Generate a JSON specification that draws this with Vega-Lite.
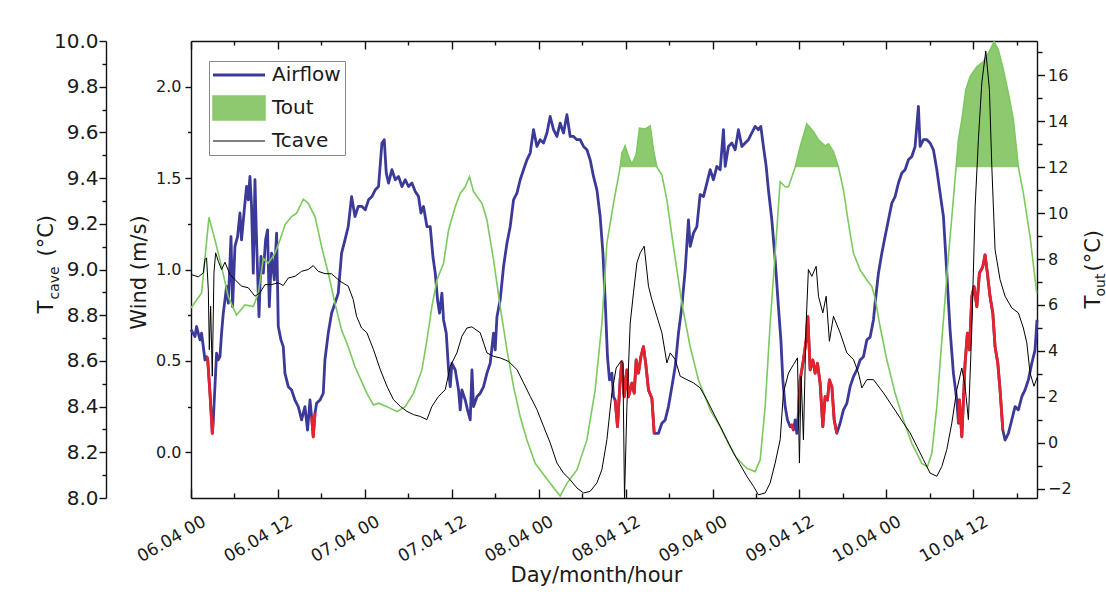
{
"$schema": "https://vega.github.io/schema/vega-lite/v6.json",
"width": 846, "height": 457,
"autosize": {"type": "none"},
"padding": {"left": 191, "top": 41, "right": 69, "bottom": 97},
"background": "white",
"config": {
  "font": "DejaVu Sans",
  "view": {"stroke": null},
  "axis": {"grid": false, "domainColor": "#111111", "tickColor": "#111111", "domainWidth": 1.4, "tickWidth": 1.4, "labelColor": "#1a1a1a", "titleColor": "#1a1a1a", "labelFontSize": 16, "titleFontSize": 21, "titleFontWeight": "normal", "labelFont": "DejaVu Sans", "titleFont": "DejaVu Sans"}
},
"resolve": {"scale": {"y": "independent"}, "axis": {"x": "independent", "y": "independent"}},
"datasets": {
"air": [
{"h":0,"w":0.67,"r":0},{"h":0.55,"w":0.633,"r":0},{"h":0.77,"w":0.688,"r":0},{"h":1.24,"w":0.615,"r":0},{"h":1.46,"w":0.652,"r":0},{"h":1.93,"w":0.505,"r":0},
{"h":2.15,"w":0.523,"r":1},{"h":2.29,"w":0.515,"r":1},{"h":2.62,"w":0.323,"r":1},{"h":2.94,"w":0.104,"r":1},{"h":3.08,"w":0.177,"r":1},
{"h":3.53,"w":0.542,"r":0},{"h":3.77,"w":0.505,"r":0},{"h":4.0,"w":0.523,"r":0},{"h":4.22,"w":0.652,"r":0},{"h":4.46,"w":0.761,"r":0},{"h":4.69,"w":0.834,"r":0},{"h":4.91,"w":0.907,"r":0},{"h":5.15,"w":0.816,"r":0},{"h":5.52,"w":1.18,"r":0},{"h":5.74,"w":0.797,"r":0},{"h":6.07,"w":1.126,"r":0},{"h":6.43,"w":1.18,"r":0},{"h":6.76,"w":1.309,"r":0},{"h":6.98,"w":1.162,"r":0},{"h":7.36,"w":1.327,"r":0},{"h":7.67,"w":1.454,"r":0},{"h":7.91,"w":1.381,"r":0},{"h":8.14,"w":1.509,"r":0},{"h":8.36,"w":1.345,"r":0},{"h":8.6,"w":0.98,"r":0},{"h":8.83,"w":1.491,"r":0},{"h":9.05,"w":1.162,"r":0},{"h":9.39,"w":0.742,"r":0},{"h":9.66,"w":1.071,"r":0},{"h":9.98,"w":0.98,"r":0},{"h":10.3,"w":1.162,"r":0},{"h":10.57,"w":1.217,"r":0},{"h":10.81,"w":0.797,"r":0},{"h":11.12,"w":1.09,"r":0},{"h":11.5,"w":0.943,"r":0},{"h":11.82,"w":1.199,"r":0},{"h":12.05,"w":0.688,"r":0},{"h":12.42,"w":0.615,"r":0},{"h":12.74,"w":0.578,"r":0},{"h":12.97,"w":0.433,"r":0},{"h":13.43,"w":0.359,"r":0},{"h":13.89,"w":0.341,"r":0},{"h":14.35,"w":0.286,"r":0},{"h":14.81,"w":0.25,"r":0},{"h":15.27,"w":0.177,"r":0},{"h":15.73,"w":0.25,"r":0},{"h":16.09,"w":0.122,"r":0},{"h":16.43,"w":0.286,"r":0},
{"h":16.65,"w":0.195,"r":2},{"h":16.88,"w":0.085,"r":2},{"h":17.12,"w":0.214,"r":2},
{"h":17.34,"w":0.268,"r":0},{"h":17.81,"w":0.286,"r":0},{"h":18.26,"w":0.323,"r":0},{"h":18.49,"w":0.505,"r":0},{"h":18.95,"w":0.652,"r":0},{"h":19.41,"w":0.761,"r":0},{"h":19.88,"w":0.816,"r":0},{"h":20.33,"w":0.871,"r":0},{"h":20.79,"w":1.09,"r":0},{"h":21.26,"w":1.162,"r":0},{"h":21.71,"w":1.235,"r":0},{"h":22.17,"w":1.399,"r":0},{"h":22.64,"w":1.29,"r":0},{"h":23.09,"w":1.345,"r":0},{"h":23.6,"w":1.345,"r":0},{"h":24.06,"w":1.327,"r":0},{"h":24.51,"w":1.381,"r":0},{"h":24.98,"w":1.399,"r":0},{"h":25.44,"w":1.436,"r":0},{"h":25.89,"w":1.454,"r":0},{"h":26.36,"w":1.692,"r":0},{"h":26.68,"w":1.71,"r":0},{"h":26.96,"w":1.527,"r":0},{"h":27.27,"w":1.473,"r":0},{"h":27.74,"w":1.546,"r":0},{"h":28.2,"w":1.491,"r":0},{"h":28.65,"w":1.509,"r":0},{"h":29.12,"w":1.454,"r":0},{"h":29.58,"w":1.491,"r":0},{"h":30.03,"w":1.454,"r":0},{"h":30.5,"w":1.473,"r":0},{"h":30.96,"w":1.427,"r":0},{"h":31.41,"w":1.399,"r":0},{"h":31.75,"w":1.309,"r":0},{"h":32.1,"w":1.345,"r":0},{"h":32.57,"w":1.235,"r":0},{"h":33.03,"w":1.235,"r":0},{"h":33.4,"w":1.071,"r":0},{"h":33.72,"w":0.98,"r":0},{"h":34.04,"w":0.834,"r":0},{"h":34.31,"w":0.761,"r":0},{"h":34.64,"w":0.871,"r":0},{"h":34.87,"w":0.724,"r":0},{"h":35.24,"w":0.652,"r":0},{"h":35.56,"w":0.451,"r":0},{"h":35.79,"w":0.359,"r":0},{"h":36.02,"w":0.487,"r":0},{"h":36.48,"w":0.451,"r":0},{"h":36.94,"w":0.341,"r":0},{"h":37.17,"w":0.232,"r":0},{"h":37.4,"w":0.341,"r":0},{"h":37.86,"w":0.286,"r":0},{"h":38.18,"w":0.232,"r":0},{"h":38.55,"w":0.177,"r":0},{"h":38.79,"w":0.451,"r":0},{"h":39.01,"w":0.25,"r":0},{"h":39.48,"w":0.304,"r":0},{"h":39.93,"w":0.323,"r":0},{"h":40.39,"w":0.359,"r":0},{"h":40.86,"w":0.433,"r":0},{"h":41.31,"w":0.487,"r":0},{"h":41.77,"w":0.652,"r":0},{"h":42.0,"w":0.56,"r":0},{"h":42.24,"w":0.742,"r":0},{"h":42.69,"w":0.834,"r":0},{"h":43.15,"w":1.016,"r":0},{"h":43.62,"w":1.144,"r":0},{"h":44.07,"w":1.235,"r":0},{"h":44.53,"w":1.381,"r":0},{"h":45.0,"w":1.418,"r":0},{"h":45.45,"w":1.491,"r":0},{"h":45.91,"w":1.546,"r":0},{"h":46.38,"w":1.6,"r":0},{"h":46.83,"w":1.637,"r":0},{"h":47.29,"w":1.765,"r":0},{"h":47.76,"w":1.673,"r":0},{"h":48.21,"w":1.71,"r":0},{"h":48.67,"w":1.692,"r":0},{"h":49.14,"w":1.747,"r":0},{"h":49.59,"w":1.837,"r":0},{"h":50.05,"w":1.765,"r":0},{"h":50.52,"w":1.728,"r":0},{"h":50.97,"w":1.801,"r":0},{"h":51.43,"w":1.747,"r":0},{"h":51.9,"w":1.847,"r":0},{"h":52.35,"w":1.728,"r":0},{"h":52.81,"w":1.728,"r":0},{"h":53.28,"w":1.71,"r":0},{"h":53.73,"w":1.71,"r":0},{"h":54.19,"w":1.673,"r":0},{"h":54.66,"w":1.655,"r":0},{"h":55.11,"w":1.6,"r":0},{"h":55.57,"w":1.509,"r":0},{"h":56.04,"w":1.436,"r":0},{"h":56.49,"w":1.29,"r":0},{"h":56.87,"w":1.09,"r":0},{"h":57.18,"w":0.834,"r":0},{"h":57.5,"w":0.523,"r":0},{"h":57.78,"w":0.396,"r":0},{"h":58.11,"w":0.433,"r":0},{"h":58.33,"w":0.304,"r":0},
{"h":58.56,"w":0.286,"r":3},{"h":58.88,"w":0.14,"r":3},{"h":59.25,"w":0.396,"r":3},{"h":59.49,"w":0.496,"r":3},{"h":59.81,"w":0.304,"r":3},{"h":60.18,"w":0.451,"r":3},{"h":60.4,"w":0.304,"r":3},{"h":60.87,"w":0.378,"r":3},{"h":61.19,"w":0.323,"r":3},{"h":61.46,"w":0.505,"r":3},{"h":61.78,"w":0.433,"r":3},{"h":62.11,"w":0.523,"r":3},{"h":62.47,"w":0.578,"r":3},{"h":62.8,"w":0.478,"r":3},{"h":63.16,"w":0.341,"r":3},{"h":63.63,"w":0.296,"r":3},{"h":63.95,"w":0.104,"r":3},
{"h":64.54,"w":0.104,"r":0},{"h":65.01,"w":0.159,"r":0},{"h":65.47,"w":0.177,"r":0},{"h":65.92,"w":0.25,"r":0},{"h":66.39,"w":0.359,"r":0},{"h":66.85,"w":0.469,"r":0},{"h":67.3,"w":0.652,"r":0},{"h":67.77,"w":0.797,"r":0},{"h":68.23,"w":0.998,"r":0},{"h":68.68,"w":1.272,"r":0},{"h":68.92,"w":1.126,"r":0},{"h":69.37,"w":1.199,"r":0},{"h":69.84,"w":1.235,"r":0},{"h":70.29,"w":1.41,"r":0},{"h":70.75,"w":1.399,"r":0},{"h":71.22,"w":1.473,"r":0},{"h":71.68,"w":1.546,"r":0},{"h":72.13,"w":1.491,"r":0},{"h":72.6,"w":1.564,"r":0},{"h":73.06,"w":1.546,"r":0},{"h":73.51,"w":1.765,"r":0},{"h":73.75,"w":1.564,"r":0},{"h":74.2,"w":1.673,"r":0},{"h":74.67,"w":1.692,"r":0},{"h":75.13,"w":1.655,"r":0},{"h":75.58,"w":1.765,"r":0},{"h":76.05,"w":1.673,"r":0},{"h":76.51,"w":1.692,"r":0},{"h":76.96,"w":1.71,"r":0},{"h":77.43,"w":1.747,"r":0},{"h":77.89,"w":1.783,"r":0},{"h":78.34,"w":1.765,"r":0},{"h":78.67,"w":1.783,"r":0},{"h":79.03,"w":1.673,"r":0},{"h":79.41,"w":1.564,"r":0},{"h":79.72,"w":1.436,"r":0},{"h":80.19,"w":1.272,"r":0},{"h":80.65,"w":1.053,"r":0},{"h":81.1,"w":0.797,"r":0},{"h":81.44,"w":0.615,"r":0},{"h":81.71,"w":0.396,"r":0},{"h":82.03,"w":0.25,"r":0},{"h":82.35,"w":0.177,"r":0},
{"h":82.72,"w":0.14,"r":4},{"h":82.96,"w":0.149,"r":4},{"h":83.18,"w":0.122,"r":4},
{"h":83.41,"w":0.177,"r":0},{"h":83.64,"w":0.104,"r":0},
{"h":83.86,"w":0.214,"r":5},{"h":84.1,"w":0.396,"r":5},{"h":84.55,"w":0.505,"r":5},{"h":84.93,"w":0.615,"r":5},{"h":85.16,"w":0.742,"r":5},{"h":85.48,"w":0.451,"r":5},{"h":85.85,"w":0.505,"r":5},{"h":86.17,"w":0.433,"r":5},{"h":86.49,"w":0.487,"r":5},{"h":86.86,"w":0.378,"r":5},{"h":87.23,"w":0.14,"r":5},{"h":87.55,"w":0.304,"r":5},{"h":87.87,"w":0.286,"r":5},{"h":88.14,"w":0.396,"r":5},{"h":88.48,"w":0.359,"r":5},{"h":88.8,"w":0.177,"r":5},{"h":89.16,"w":0.104,"r":5},
{"h":89.62,"w":0.159,"r":0},{"h":90.08,"w":0.232,"r":0},{"h":90.55,"w":0.268,"r":0},{"h":91.0,"w":0.359,"r":0},{"h":91.46,"w":0.414,"r":0},{"h":91.93,"w":0.451,"r":0},{"h":92.38,"w":0.505,"r":0},{"h":92.84,"w":0.523,"r":0},{"h":93.31,"w":0.615,"r":0},{"h":93.76,"w":0.63,"r":0},{"h":94.22,"w":0.724,"r":0},{"h":94.45,"w":0.816,"r":0},{"h":94.91,"w":0.98,"r":0},{"h":95.38,"w":1.09,"r":0},{"h":95.83,"w":1.18,"r":0},{"h":96.29,"w":1.272,"r":0},{"h":96.76,"w":1.363,"r":0},{"h":97.21,"w":1.399,"r":0},{"h":97.67,"w":1.473,"r":0},{"h":98.14,"w":1.528,"r":0},{"h":98.59,"w":1.546,"r":0},{"h":99.05,"w":1.6,"r":0},{"h":99.52,"w":1.618,"r":0},{"h":99.97,"w":1.673,"r":0},{"h":100.43,"w":1.892,"r":0},{"h":100.66,"w":1.673,"r":0},{"h":101.12,"w":1.71,"r":0},{"h":101.59,"w":1.71,"r":0},{"h":102.04,"w":1.692,"r":0},{"h":102.5,"w":1.655,"r":0},{"h":102.97,"w":1.546,"r":0},{"h":103.42,"w":1.418,"r":0},{"h":103.88,"w":1.29,"r":0},{"h":104.35,"w":0.98,"r":0},{"h":104.8,"w":0.67,"r":0},{"h":105.26,"w":0.433,"r":0},{"h":105.73,"w":0.286,"r":0},
{"h":105.95,"w":0.159,"r":6},{"h":106.09,"w":0.286,"r":6},{"h":106.42,"w":0.085,"r":6},{"h":106.87,"w":0.487,"r":6},{"h":107.19,"w":0.652,"r":6},{"h":107.47,"w":0.56,"r":6},{"h":107.8,"w":0.852,"r":6},{"h":108.11,"w":0.907,"r":6},{"h":108.49,"w":0.797,"r":6},{"h":108.85,"w":0.98,"r":6},{"h":109.32,"w":1.016,"r":6},{"h":109.63,"w":1.08,"r":6},{"h":109.95,"w":0.98,"r":6},{"h":110.32,"w":0.852,"r":6},{"h":110.7,"w":0.761,"r":6},{"h":111.01,"w":0.578,"r":6},{"h":111.39,"w":0.487,"r":6},{"h":111.7,"w":0.341,"r":6},{"h":112.08,"w":0.122,"r":6},
{"h":112.39,"w":0.067,"r":0},{"h":112.85,"w":0.104,"r":0},{"h":113.32,"w":0.177,"r":0},{"h":113.77,"w":0.25,"r":0},{"h":114.23,"w":0.232,"r":0},{"h":114.7,"w":0.304,"r":0},{"h":115.15,"w":0.341,"r":0},{"h":115.61,"w":0.396,"r":0},{"h":116.08,"w":0.487,"r":0},{"h":116.53,"w":0.56,"r":0},{"h":116.8,"w":0.724,"r":0}
],
"tout": [
{"h":0,"t":5.87},{"h":1.46,"t":6.52},{"h":2.48,"t":9.82},{"h":3.31,"t":8.83},{"h":4.22,"t":7.67},{"h":5.15,"t":6.36},{"h":6.29,"t":5.56},{"h":7.45,"t":6.0},{"h":8.6,"t":5.93},{"h":9.29,"t":6.51},{"h":9.98,"t":8.03},{"h":10.67,"t":7.82},{"h":11.59,"t":8.25},{"h":12.28,"t":8.83},{"h":12.97,"t":9.49},{"h":13.89,"t":9.85},{"h":14.58,"t":10.0},{"h":15.5,"t":10.61},{"h":16.19,"t":10.43},{"h":17.12,"t":9.85},{"h":18.03,"t":8.54},{"h":18.95,"t":7.38},{"h":19.88,"t":6.07},{"h":20.79,"t":4.91},{"h":21.71,"t":4.18},{"h":22.64,"t":3.31},{"h":23.78,"t":2.51},{"h":24.29,"t":2.15},{"h":25.2,"t":1.64},{"h":25.89,"t":1.72},{"h":27.05,"t":1.57},{"h":28.43,"t":1.35},{"h":29.58,"t":1.57},{"h":30.72,"t":2.15},{"h":31.88,"t":3.17},{"h":32.57,"t":4.47},{"h":33.26,"t":5.93},{"h":33.95,"t":7.09},{"h":34.87,"t":7.82},{"h":35.56,"t":9.27},{"h":36.48,"t":10.28},{"h":37.17,"t":10.87},{"h":37.86,"t":11.15},{"h":38.45,"t":11.59},{"h":39.0,"t":10.94},{"h":40.17,"t":10.43},{"h":40.86,"t":9.7},{"h":41.77,"t":7.96},{"h":42.69,"t":5.93},{"h":43.62,"t":4.04},{"h":44.53,"t":2.44},{"h":45.45,"t":1.13},{"h":46.38,"t":0.12},{"h":47.52,"t":-0.9},{"h":48.21,"t":-1.19},{"h":49.59,"t":-1.77},{"h":50.97,"t":-2.32},{"h":51.9,"t":-1.77},{"h":53.28,"t":-1.19},{"h":54.66,"t":0.12},{"h":55.8,"t":2.3},{"h":56.73,"t":5.2},{"h":57.42,"t":8.69},{"h":58.33,"t":10.43},{"h":59.25,"t":12},{"h":59.49,"t":12.61},{"h":59.94,"t":12.93},{"h":60.4,"t":12.46},{"h":60.87,"t":12.14},{"h":61.46,"t":12.54},{"h":61.92,"t":13.7},{"h":62.7,"t":13.66},{"h":63.4,"t":13.8},{"h":63.85,"t":12.75},{"h":64.32,"t":12},{"h":65.01,"t":11.66},{"h":65.7,"t":10.58},{"h":66.61,"t":8.54},{"h":67.77,"t":6.07},{"h":68.92,"t":4.18},{"h":70.06,"t":2.73},{"h":71.7,"t":1.42},{"h":73.06,"t":0.7},{"h":74.44,"t":-0.17},{"h":75.36,"t":-0.68},{"h":76.74,"t":-1.12},{"h":77.89,"t":-1.26},{"h":78.58,"t":-0.75},{"h":79.27,"t":1.57},{"h":79.96,"t":5.2},{"h":80.65,"t":8.25},{"h":81.34,"t":11.37},{"h":82.03,"t":11.15},{"h":82.49,"t":11.15},{"h":83.41,"t":12},{"h":84.1,"t":12.9},{"h":85.02,"t":13.89},{"h":85.94,"t":13.55},{"h":86.63,"t":13.19},{"h":87.55,"t":12.93},{"h":88.0,"t":13.02},{"h":88.7,"t":12.68},{"h":89.39,"t":12},{"h":90.08,"t":11.01},{"h":90.77,"t":9.56},{"h":91.46,"t":8.25},{"h":92.38,"t":7.53},{"h":93.31,"t":7.09},{"h":94.0,"t":6.8},{"h":94.45,"t":6.29},{"h":95.14,"t":5.05},{"h":96.07,"t":3.6},{"h":97.21,"t":2.15},{"h":98.36,"t":0.99},{"h":99.52,"t":-0.03},{"h":100.9,"t":-0.9},{"h":101.67,"t":-1.05},{"h":102.28,"t":-0.46},{"h":102.97,"t":1.57},{"h":103.66,"t":4.47},{"h":104.57,"t":8.1},{"h":105.63,"t":12},{"h":105.95,"t":13.19},{"h":106.42,"t":14.06},{"h":106.97,"t":15.37},{"h":107.56,"t":15.95},{"h":108.49,"t":16.38},{"h":109.4,"t":16.6},{"h":110.33,"t":17.11},{"h":110.88,"t":17.47},{"h":111.47,"t":17.11},{"h":112.16,"t":16.24},{"h":112.85,"t":15.22},{"h":113.54,"t":14.06},{"h":114.23,"t":12},{"h":114.92,"t":10.87},{"h":115.84,"t":8.98},{"h":116.77,"t":6.51}
],
"tcave": [
{"h":0,"t":8.978},{"h":1.01,"t":8.968},{"h":1.7,"t":8.985},{"h":1.93,"t":9.044},{"h":2.15,"t":9.051},{"h":2.39,"t":8.912},{"h":2.53,"t":8.649},{"h":2.71,"t":8.839},{"h":2.94,"t":8.533},{"h":3.17,"t":8.985},{"h":3.4,"t":9.073},{"h":3.77,"t":9.036},{"h":4.22,"t":9.0},{"h":4.69,"t":9.032},{"h":5.38,"t":8.978},{"h":6.07,"t":8.956},{"h":6.98,"t":8.927},{"h":7.91,"t":8.92},{"h":8.83,"t":8.883},{"h":9.52,"t":8.898},{"h":10.21,"t":8.934},{"h":11.12,"t":8.934},{"h":12.05,"t":8.942},{"h":12.74,"t":8.93},{"h":13.43,"t":8.963},{"h":14.35,"t":8.97},{"h":15.27,"t":8.992},{"h":16.19,"t":9.0},{"h":16.88,"t":9.017},{"h":17.57,"t":8.992},{"h":18.49,"t":8.982},{"h":19.41,"t":8.981},{"h":20.57,"t":8.949},{"h":21.71,"t":8.927},{"h":22.4,"t":8.868},{"h":22.86,"t":8.795},{"h":23.55,"t":8.744},{"h":24.29,"t":8.723},{"h":25.2,"t":8.649},{"h":26.13,"t":8.562},{"h":27.05,"t":8.489},{"h":27.96,"t":8.43},{"h":28.89,"t":8.401},{"h":29.81,"t":8.379},{"h":30.72,"t":8.365},{"h":31.65,"t":8.357},{"h":32.57,"t":8.343},{"h":33.26,"t":8.401},{"h":34.18,"t":8.445},{"h":35.1,"t":8.474},{"h":35.79,"t":8.576},{"h":36.71,"t":8.635},{"h":37.4,"t":8.708},{"h":38.1,"t":8.744},{"h":38.78,"t":8.749},{"h":39.93,"t":8.723},{"h":40.86,"t":8.635},{"h":41.77,"t":8.62},{"h":42.69,"t":8.613},{"h":43.84,"t":8.598},{"h":45.0,"t":8.562},{"h":45.91,"t":8.504},{"h":46.83,"t":8.445},{"h":47.76,"t":8.387},{"h":48.67,"t":8.314},{"h":49.59,"t":8.241},{"h":50.52,"t":8.153},{"h":51.43,"t":8.109},{"h":52.35,"t":8.08},{"h":53.28,"t":8.044},{"h":54.19,"t":8.022},{"h":55.11,"t":8.029},{"h":56.04,"t":8.066},{"h":56.73,"t":8.124},{"h":57.42,"t":8.255},{"h":58.11,"t":8.46},{"h":58.7,"t":8.569},{"h":59.35,"t":8.598},{"h":59.63,"t":8.591},{"h":59.85,"t":8.0},{"h":60.18,"t":8.401},{"h":60.64,"t":8.766},{"h":61.09,"t":8.898},{"h":61.56,"t":9.029},{"h":62.02,"t":9.073},{"h":62.57,"t":9.102},{"h":63.16,"t":8.927},{"h":63.63,"t":8.868},{"h":64.32,"t":8.795},{"h":65.01,"t":8.723},{"h":65.7,"t":8.591},{"h":66.16,"t":8.635},{"h":66.85,"t":8.606},{"h":67.54,"t":8.533},{"h":68.46,"t":8.518},{"h":69.37,"t":8.504},{"h":70.29,"t":8.482},{"h":71.22,"t":8.43},{"h":72.13,"t":8.372},{"h":73.06,"t":8.314},{"h":73.98,"t":8.255},{"h":74.9,"t":8.197},{"h":75.82,"t":8.146},{"h":76.74,"t":8.095},{"h":77.66,"t":8.051},{"h":78.34,"t":8.014},{"h":79.27,"t":8.022},{"h":79.96,"t":8.066},{"h":80.65,"t":8.153},{"h":81.34,"t":8.255},{"h":81.79,"t":8.46},{"h":82.49,"t":8.547},{"h":83.18,"t":8.584},{"h":83.73,"t":8.613},{"h":84.0,"t":8.153},{"h":84.24,"t":8.533},{"h":84.55,"t":8.255},{"h":84.93,"t":8.766},{"h":85.24,"t":9.0},{"h":85.71,"t":8.97},{"h":86.31,"t":9.014},{"h":86.63,"t":8.883},{"h":87.23,"t":8.81},{"h":87.69,"t":8.883},{"h":88.14,"t":8.686},{"h":88.7,"t":8.795},{"h":89.62,"t":8.723},{"h":90.55,"t":8.635},{"h":91.46,"t":8.606},{"h":92.15,"t":8.547},{"h":92.62,"t":8.482},{"h":93.31,"t":8.518},{"h":94.22,"t":8.518},{"h":95.6,"t":8.46},{"h":96.53,"t":8.416},{"h":97.45,"t":8.372},{"h":98.36,"t":8.328},{"h":99.28,"t":8.285},{"h":100.21,"t":8.226},{"h":101.12,"t":8.168},{"h":102.04,"t":8.109},{"h":102.97,"t":8.095},{"h":103.66,"t":8.138},{"h":104.35,"t":8.212},{"h":105.04,"t":8.328},{"h":105.73,"t":8.474},{"h":106.42,"t":8.569},{"h":106.87,"t":8.489},{"h":107.33,"t":8.343},{"h":107.8,"t":8.737},{"h":108.26,"t":9.277},{"h":108.71,"t":9.569},{"h":109.18,"t":9.817},{"h":109.73,"t":9.956},{"h":110.23,"t":9.788},{"h":110.56,"t":9.452},{"h":111.01,"t":9.087},{"h":111.7,"t":8.956},{"h":112.39,"t":8.883},{"h":113.32,"t":8.832},{"h":114.23,"t":8.81},{"h":114.92,"t":8.744},{"h":115.39,"t":8.679},{"h":115.84,"t":8.547},{"h":116.39,"t":8.489},{"h":116.8,"t":8.527}
]
},
"layer": [
{
  "data": {"name": "air"},
  "mark": {"type": "line", "strokeWidth": 2.8, "strokeJoin": "round"},
  "encoding": {
    "x": {"field": "h", "type": "quantitative", "scale": {"domain": [0, 116.8], "nice": false, "zero": false},
          "axis": {"orient": "top", "values": [0,12,24,36,48,60,72,84,96,108], "tickSize": -8, "labels": false, "title": null}},
    "y": {"field": "w", "type": "quantitative", "scale": {"domain": [-0.25, 2.25], "nice": false, "zero": false},
          "axis": {"orient": "left", "values": [0,0.5,1,1.5,2], "format": ".1f", "tickSize": 6, "labelPadding": 4, "labelFontSize": 16,
                   "title": "Wind (m/s)", "titleX": -46, "titleY": 231, "titleAngle": 270, "titleAlign": "center", "titleBaseline": "alphabetic"}},
    "color": {"datum": "Airflow", "type": "nominal",
      "scale": {"domain": ["Airflow", "Tout", "Tcave"], "range": ["#3c3a98", "#8cc96f", "#000000"]},
      "legend": {"title": null, "orient": "none", "legendX": 18, "legendY": 20, "padding": 4,
        "strokeColor": "#888888", "fillColor": "#ffffff", "labelFont": "DejaVu Sans", "labelFontSize": 20, "labelColor": "#1a1a1a",
        "symbolSize": 400, "symbolOffset": 16, "labelOffset": 23, "rowPadding": 8, "symbolType": "stroke",
        "encode": {"symbols": {"update": {
          "shape": {"signal": "datum.value === 'Tout' ? 'M-2.6,-1.2H2.6V1.2H-2.6Z' : 'M-2.6,0H2.6'"},
          "fill": {"signal": "datum.value === 'Tout' ? '#8cc96f' : 'transparent'"},
          "stroke": {"signal": "datum.value === 'Airflow' ? '#3c3a98' : datum.value === 'Tout' ? '#79c45a' : '#000000'"},
          "strokeWidth": {"signal": "datum.value === 'Airflow' ? 3 : datum.value === 'Tout' ? 1.5 : 1.2"},
          "opacity": {"value": 1}
        }}}}}
  }
},
{
  "data": {"name": "air"},
  "transform": [{"filter": "datum.r > 0"}],
  "mark": {"type": "line", "strokeWidth": 2.8, "strokeJoin": "round", "color": "#e8222a"},
  "encoding": {
    "x": {"field": "h", "type": "quantitative", "scale": {"domain": [0, 116.8], "nice": false, "zero": false},
          "axis": {"orient": "top", "values": [6,18,30,42,54,66,78,90,102,114], "tickSize": -4, "labels": false, "domain": false, "title": null}},
    "y": {"field": "w", "type": "quantitative", "scale": {"domain": [-0.25, 2.25], "nice": false, "zero": false},
          "axis": {"orient": "left", "values": [0.25,0.75,1.25,1.75], "tickSize": 3.5, "labels": false, "domain": false, "title": null}},
    "detail": {"field": "r", "type": "nominal"}
  }
},
{
  "data": {"name": "tout"},
  "transform": [{"filter": "datum.t >= 12"}],
  "mark": {"type": "area", "opacity": 1},
  "encoding": {
    "x": {"field": "h", "type": "quantitative", "scale": {"domain": [0, 116.8], "nice": false, "zero": false},
          "axis": {"orient": "bottom", "values": [0,12,24,36,48,60,72,84,96,108], "tickSize": -9, "labelAngle": -30, "labelAlign": "right", "labelBaseline": "top",
                   "labelPadding": 24, "labelOffset": 9, "labelFontSize": 17,
                   "labelExpr": "(floor(datum.value/24)+6 < 10 ? '0' : '') + (floor(datum.value/24)+6) + '.04 ' + (datum.value % 24 == 0 ? '00' : '12')",
                   "title": "Day/month/hour", "titleX": 405, "titleY": 83, "titleAlign": "center", "titleBaseline": "alphabetic", "titleFontSize": 21}},
    "y": {"field": "t", "type": "quantitative", "scale": {"domain": [-2.41, 17.5], "nice": false, "zero": false},
          "axis": {"orient": "right", "values": [-2,0,2,4,6,8,10,12,14,16], "tickSize": 7.5, "labelPadding": 3, "labelFontSize": 16,
                   "title": "T", "titleX": 62, "titleY": 267, "titleAngle": 270, "titleAlign": "left", "titleBaseline": "alphabetic"}},
    "y2": {"datum": 12},
    "color": {"datum": "Tout", "type": "nominal"}
  }
},
{
  "data": {"name": "tout"},
  "mark": {"type": "line", "color": "#7cc95e", "strokeWidth": 1.6},
  "encoding": {
    "x": {"field": "h", "type": "quantitative", "scale": {"domain": [0, 116.8], "nice": false, "zero": false},
          "axis": {"orient": "bottom", "values": [6,18,30,42,54,66,78,90,102,114], "tickSize": -5, "labels": false, "domain": false, "title": null}},
    "y": {"field": "t", "type": "quantitative", "scale": {"domain": [-2.41, 17.5], "nice": false, "zero": false},
          "axis": {"orient": "right", "values": [-1,1,3,5,7,9,11,13,15,17], "tickSize": 5, "labels": false, "domain": false,
                   "title": "out", "titleFontSize": 14, "titleX": 67, "titleY": 255, "titleAngle": 270, "titleAlign": "left", "titleBaseline": "alphabetic"}}
  }
},
{
  "data": {"name": "tcave"},
  "mark": {"type": "line", "strokeWidth": 1, "strokeJoin": "round"},
  "encoding": {
    "x": {"field": "h", "type": "quantitative", "scale": {"domain": [0, 116.8], "nice": false, "zero": false}, "axis": null},
    "y": {"field": "t", "type": "quantitative", "scale": {"domain": [8, 10], "nice": false, "zero": false},
          "axis": {"orient": "left", "offset": 85, "values": [8,8.2,8.4,8.6,8.8,9,9.2,9.4,9.6,9.8,10], "format": ".1f", "tickSize": 7, "labelPadding": 1, "labelFontSize": 20,
                   "title": "T", "titleX": -54, "titleY": 272, "titleAngle": 270, "titleAlign": "left", "titleBaseline": "alphabetic"}},
    "color": {"datum": "Tcave", "type": "nominal"}
  }
},
{
  "data": {"values": [{}]},
  "mark": {"type": "rule", "opacity": 0},
  "encoding": {
    "y": {"datum": 9, "type": "quantitative", "scale": {"domain": [8, 10], "nice": false, "zero": false},
          "axis": {"orient": "left", "offset": 85, "values": [8.1,8.3,8.5,8.7,8.9,9.1,9.3,9.5,9.7,9.9], "tickSize": 4, "labels": false, "domain": false,
                   "title": "cave", "titleFontSize": 14, "titleX": -48, "titleY": 258, "titleAngle": 270, "titleAlign": "left", "titleBaseline": "alphabetic"}}
  }
},
{
  "data": {"values": [{}]},
  "mark": {"type": "rule", "opacity": 0},
  "encoding": {
    "y": {"datum": 9, "type": "quantitative", "scale": {"domain": [8, 10], "nice": false, "zero": false},
          "axis": {"orient": "left", "offset": 85, "ticks": false, "labels": false, "domain": false,
                   "title": "(°C)", "titleX": -54, "titleY": 215, "titleAngle": 270, "titleAlign": "left", "titleBaseline": "alphabetic"}}
  }
},
{
  "data": {"values": [{}]},
  "mark": {"type": "rule", "opacity": 0},
  "encoding": {
    "y": {"datum": 5, "type": "quantitative", "scale": {"domain": [-2.41, 17.5], "nice": false, "zero": false},
          "axis": {"orient": "right", "ticks": false, "labels": false, "domain": false,
                   "title": "(°C)", "titleX": 62, "titleY": 230, "titleAngle": 270, "titleAlign": "left", "titleBaseline": "alphabetic"}}
  }
}
]
}
